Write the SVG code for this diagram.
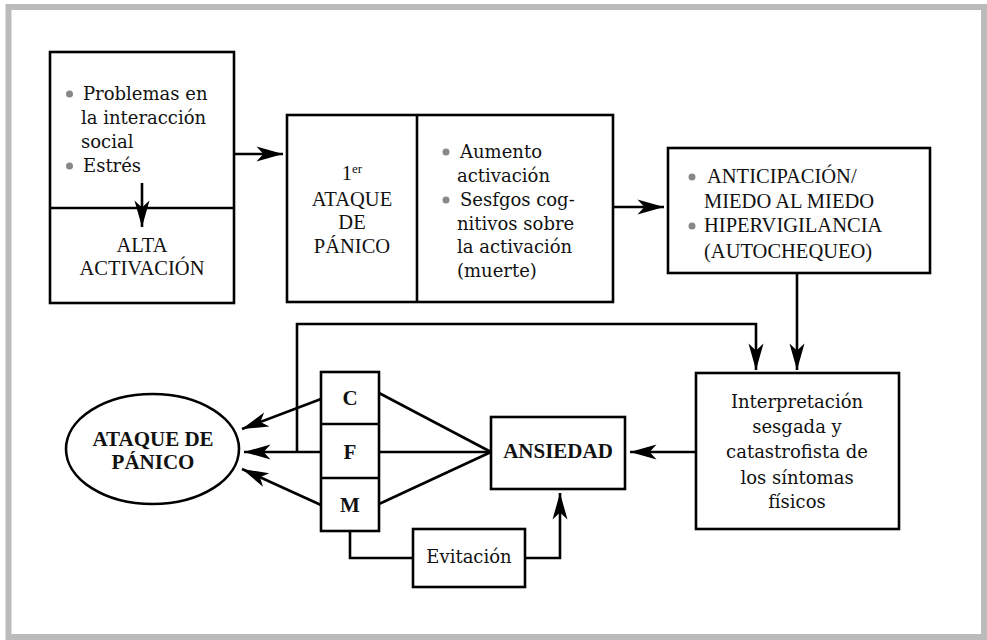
<svg xmlns="http://www.w3.org/2000/svg" width="987" height="640" viewBox="0 0 987 640">
<style>
.box{fill:#fff;stroke:#000;stroke-width:2.6}
.ln{fill:none;stroke:#000;stroke-width:2.6}
.arr{fill:none;stroke:#000;stroke-width:2.6;marker-end:url(#ah)}
.t{font-family:"DejaVu Serif",serif;font-size:18px;fill:#111}
.c{font-family:"Liberation Serif",serif;font-size:20.5px;fill:#111}
.b{font-family:"Liberation Serif",serif;font-size:21px;font-weight:bold;fill:#111}
.bul{fill:#888}
.m{text-anchor:middle}
</style>
<defs>
<marker id="ah" markerUnits="userSpaceOnUse" markerWidth="30" markerHeight="20" viewBox="-24 -8 26 16" refX="0" refY="0" orient="auto">
<path d="M0,0 L-23,-6.5 L-17,0 L-23,6.5 Z" fill="#000"/>
</marker>
</defs>
<rect x="0" y="0" width="987" height="640" fill="#fff"/>
<rect x="8.5" y="7" width="975.5" height="630" fill="none" stroke="#bbb" stroke-width="6"/>

<g id="box1">
<rect class="box" x="50" y="52" width="184" height="251"/>
<line class="ln" x1="50" y1="208" x2="234" y2="208"/>
<circle class="bul" cx="69.5" cy="94" r="3.5"/>
<text class="t" x="83" y="100">Problemas en</text>
<text class="t" x="81" y="123.5">la interacción</text>
<text class="t" x="81" y="147.5">social</text>
<circle class="bul" cx="69.5" cy="166" r="3.5"/>
<text class="t" x="83" y="172">Estrés</text>
<text class="c m" x="142" y="252">ALTA</text>
<text class="c m" x="142" y="275">ACTIVACIÓN</text>
</g>

<g id="box2">
<rect class="box" x="287" y="115" width="326" height="187"/>
<line class="ln" x1="417" y1="115" x2="417" y2="302"/>
<text class="c m" x="352" y="180">1<tspan font-size="13" dy="-7">er</tspan></text>
<text class="c m" x="352" y="206">ATAQUE</text>
<text class="c m" x="352" y="229">DE</text>
<text class="c m" x="352" y="253">PÁNICO</text>
<circle class="bul" cx="446" cy="152" r="3.5"/>
<text class="t" x="460" y="158">Aumento</text>
<text class="t" x="457" y="182">activación</text>
<circle class="bul" cx="446" cy="200" r="3.5"/>
<text class="t" x="460" y="206">Sesfgos cog-</text>
<text class="t" x="457" y="229.5">nitivos sobre</text>
<text class="t" x="457" y="253">la activación</text>
<text class="t" x="457" y="277">(muerte)</text>
</g>

<g id="box3">
<rect class="box" x="668" y="148" width="262" height="125"/>
<circle class="bul" cx="692" cy="177" r="3.5"/>
<text class="c" x="707" y="183">ANTICIPACIÓN/</text>
<text class="c" x="704" y="208">MIEDO AL MIEDO</text>
<circle class="bul" cx="692" cy="226" r="3.5"/>
<text class="c" x="704" y="232">HIPERVIGILANCIA</text>
<text class="c" x="704" y="258">(AUTOCHEQUEO)</text>
</g>

<g id="box4">
<rect class="box" x="696" y="373" width="203" height="156"/>
<text class="t m" x="797" y="408">Interpretación</text>
<text class="t m" x="797" y="433">sesgada y</text>
<text class="t m" x="797" y="458">catastrofista de</text>
<text class="t m" x="797" y="484">los síntomas</text>
<text class="t m" x="797" y="508">físicos</text>
</g>

<g id="ansiedad">
<rect class="box" x="491" y="417" width="134" height="72"/>
<text class="b m" x="558" y="458">ANSIEDAD</text>
</g>

<g id="cfm">
<rect class="box" x="321" y="372" width="58" height="159"/>
<line class="ln" x1="321" y1="424" x2="379" y2="424"/>
<line class="ln" x1="321" y1="478" x2="379" y2="478"/>
<text class="b m" x="350" y="405">C</text>
<text class="b m" x="350" y="459">F</text>
<text class="b m" x="350" y="512">M</text>
</g>

<g id="ataque">
<ellipse class="box" cx="152.5" cy="449" rx="86.5" ry="55"/>
<text class="b m" x="153" y="446">ATAQUE DE</text>
<text class="b m" x="153" y="469">PÁNICO</text>
</g>

<g id="evitacion">
<rect class="box" x="413" y="529" width="112" height="58"/>
<text class="t m" x="469" y="563">Evitación</text>
</g>

<g id="connectors">
<line class="arr" x1="234" y1="154" x2="283" y2="154"/>
<line class="arr" x1="142" y1="183" x2="142" y2="227"/>
<line class="arr" x1="613" y1="207" x2="664" y2="207"/>
<line class="arr" x1="797" y1="273" x2="797" y2="370"/>
<polyline class="arr" points="297,452 297,324 756,324 756,370"/>
<line class="arr" x1="696" y1="452" x2="630" y2="452"/>
<line class="arr" x1="321" y1="399" x2="242" y2="429"/>
<line class="arr" x1="321" y1="452" x2="244" y2="452"/>
<line class="arr" x1="321" y1="505" x2="242" y2="469"/>
<line class="ln" x1="379" y1="393" x2="491" y2="452"/>
<line class="ln" x1="379" y1="452" x2="491" y2="452"/>
<line class="ln" x1="379" y1="504" x2="491" y2="452"/>
<polyline class="ln" points="350,531 350,558 413,558"/>
<polyline class="arr" points="525,558 560,558 560,493"/>
</g>
</svg>
